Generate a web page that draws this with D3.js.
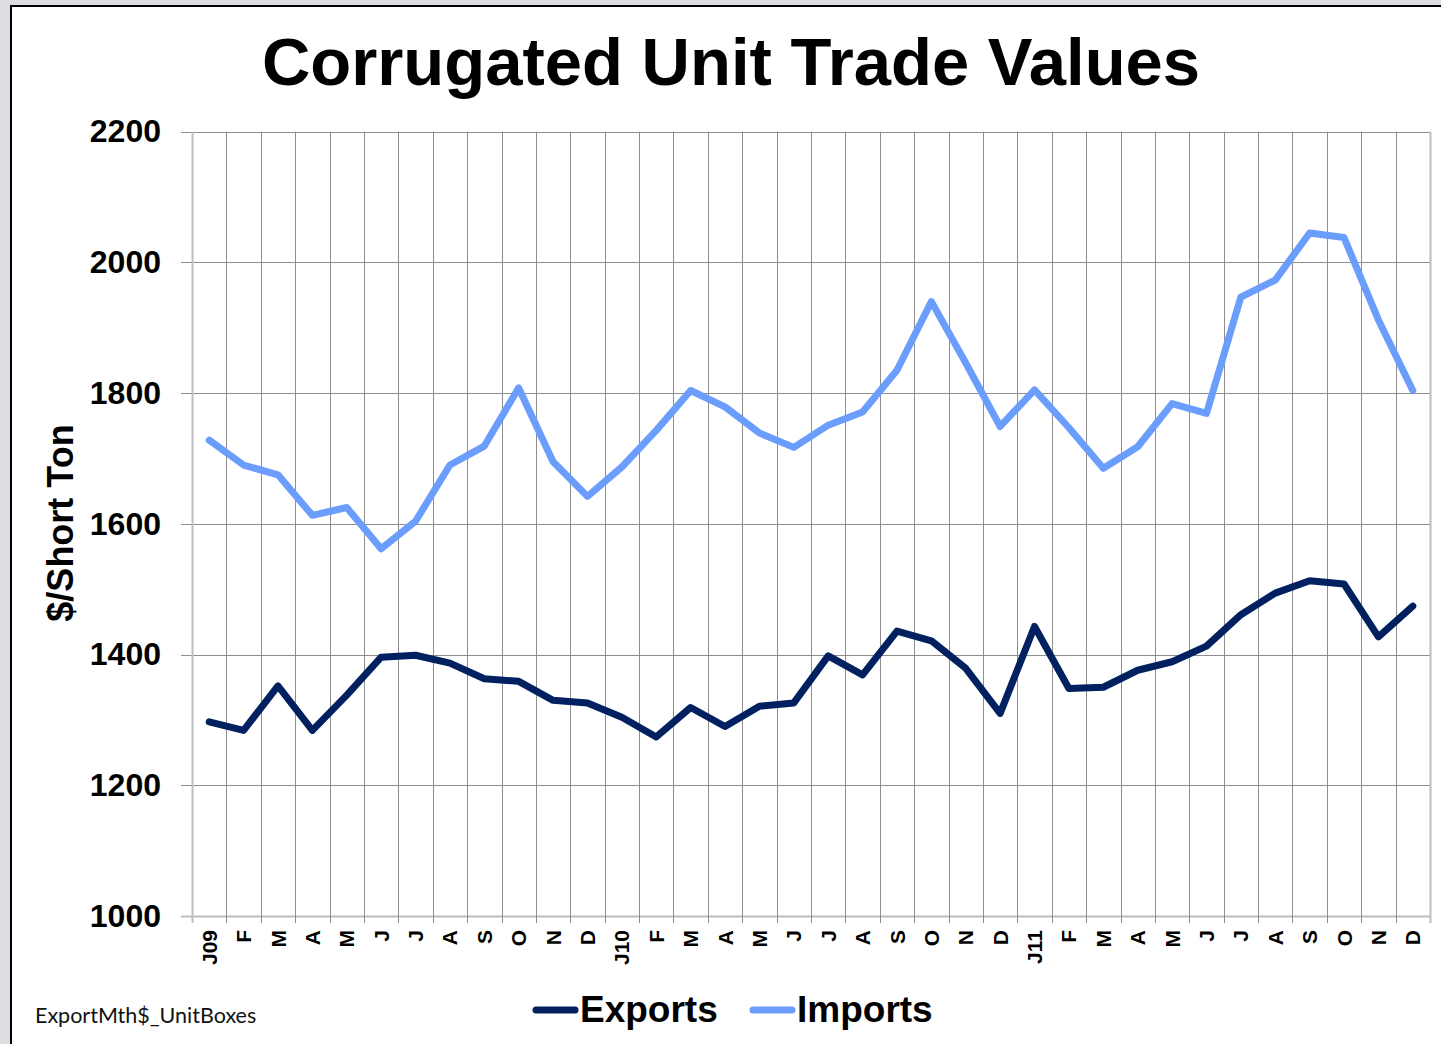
<!DOCTYPE html>
<html>
<head>
<meta charset="utf-8">
<script src="https://cdn.jsdelivr.net/npm/d3@7"></script>
<style>
  html, body { margin: 0; padding: 0; background: #dcdde0; }
  svg { display: block; }
</style>
</head>
<body>
<svg id="chart" width="1441" height="1044"></svg>
<script>
// month labels, J09 .. D11
var months = ["J09", "F", "M", "A", "M", "J", "J", "A", "S", "O", "N", "D",
              "J10", "F", "M", "A", "M", "J", "J", "A", "S", "O", "N", "D",
              "J11", "F", "M", "A", "M", "J", "J", "A", "S", "O", "N", "D"];

// $/short ton
var exportsValues = [1297, 1284, 1352, 1284, 1338, 1396, 1399, 1387, 1363, 1359, 1330, 1326,
                     1304, 1274, 1319, 1290, 1321, 1326, 1398, 1369, 1436, 1421, 1379, 1310,
                     1443, 1348, 1350, 1376, 1389, 1413, 1461, 1494, 1513, 1508, 1427, 1474];
var importsValues = [1728, 1690, 1675, 1613, 1625, 1562, 1604, 1690, 1719, 1808, 1695, 1642,
                     1687, 1743, 1804, 1779, 1739, 1717, 1751, 1771, 1835, 1940, 1846, 1749,
                     1805, 1747, 1685, 1718, 1784, 1769, 1947, 1973, 2045, 2038, 1912, 1804];

var yTicks = [1000, 1200, 1400, 1600, 1800, 2000, 2200];

var series = [
    { name: "Exports", values: exportsValues, color: "#002060" },
    { name: "Imports", values: importsValues, color: "#6b9dfd" }
];

var svg = d3.select("#chart");

// page frame
svg.append("rect")
    .attr("x", 11).attr("y", 6)
    .attr("width", 1450).attr("height", 1060)
    .attr("fill", "#ffffff")
    .attr("stroke", "#000000")
    .attr("stroke-width", 2);

// plot box (note: "top" is a reserved window global, so prefix these)
var plotLeft = 192, plotRight = 1430, plotTop = 131.7, plotBottom = 916;

var x = d3.scaleBand()
    .domain(d3.range(months.length))
    .range([plotLeft, plotRight]);
var y = d3.scaleLinear()
    .domain([1000, 2200])
    .range([plotBottom, plotTop]);

// horizontal gridlines
svg.append("g").attr("class", "ygrid")
    .selectAll("line")
    .data(yTicks)
    .enter().append("line")
    .attr("x1", plotLeft - 11).attr("x2", plotRight)
    .attr("y1", function (d) { return Math.round(y(d)) + 0.5; })
    .attr("y2", function (d) { return Math.round(y(d)) + 0.5; })
    .attr("stroke", function (d) { return d === 1000 ? "#bdbdbd" : "#8e8e8e"; })
    .attr("stroke-width", function (d) { return d === 1000 ? 2 : 1; });

// vertical gridlines on category boundaries
var bounds = d3.range(months.length + 1).map(function (i) { return plotLeft + i * x.step(); });
svg.append("g").attr("class", "xgrid")
    .selectAll("line")
    .data(bounds)
    .enter().append("line")
    .attr("x1", function (d) { return Math.round(d) + 0.5; })
    .attr("x2", function (d) { return Math.round(d) + 0.5; })
    .attr("y1", plotTop).attr("y2", plotBottom + 7)
    .attr("stroke", function (d, i) { return (i === 0 || i === months.length) ? "#bdbdbd" : "#8e8e8e"; })
    .attr("stroke-width", function (d, i) { return (i === 0 || i === months.length) ? 2 : 1; });

// y axis labels
var yAxis = d3.axisLeft(y)
    .tickValues(yTicks)
    .tickSize(0)
    .tickPadding(31)
    .tickFormat(d3.format("d"));
var gy = svg.append("g")
    .attr("transform", "translate(" + plotLeft + ",0)")
    .call(yAxis);
gy.select(".domain").remove();
gy.selectAll("text")
    .attr("font-family", "'Liberation Sans', Arial, sans-serif")
    .attr("font-weight", "bold")
    .attr("font-size", 32)
    .attr("fill", "#000");

// x axis labels (rotated)
var xAxis = d3.axisBottom(x)
    .tickSize(0)
    .tickFormat(function (i) { return months[i]; });
var gx = svg.append("g")
    .attr("transform", "translate(0," + plotBottom + ")")
    .call(xAxis);
gx.select(".domain").remove();
gx.selectAll("text")
    .attr("transform", "rotate(-90)")
    .attr("text-anchor", "end")
    .attr("x", -14)
    .attr("y", 0)
    .attr("dy", "0.36em")
    .attr("font-family", "'Liberation Sans', Arial, sans-serif")
    .attr("font-weight", "bold")
    .attr("font-size", 21)
    .attr("fill", "#000");

// lines
var line = d3.line()
    .x(function (d, i) { return x(i) + x.bandwidth() / 2; })
    .y(function (d) { return y(d); });

svg.append("g").attr("class", "series")
    .selectAll("path")
    .data(series)
    .enter().append("path")
    .attr("d", function (d) { return line(d.values); })
    .attr("fill", "none")
    .attr("stroke", function (d) { return d.color; })
    .attr("stroke-width", 7)
    .attr("stroke-linejoin", "round")
    .attr("stroke-linecap", "round");

// title
svg.append("text")
    .attr("x", 731).attr("y", 85)
    .attr("text-anchor", "middle")
    .attr("font-family", "'Liberation Sans', Arial, sans-serif")
    .attr("font-weight", "bold")
    .attr("font-size", 67)
    .text("Corrugated Unit Trade Values");

// y axis title
svg.append("text")
    .attr("transform", "translate(73,523) rotate(-90)")
    .attr("text-anchor", "middle")
    .attr("font-family", "'Liberation Sans', Arial, sans-serif")
    .attr("font-weight", "bold")
    .attr("font-size", 36)
    .text("$/Short Ton");

// legend
var legendPos = [533, 750];
var legend = svg.append("g").attr("class", "legend")
    .selectAll("g")
    .data(series)
    .enter().append("g")
    .attr("transform", function (d, i) { return "translate(" + legendPos[i] + ",1010)"; });
legend.append("line")
    .attr("x1", 3).attr("x2", 42)
    .attr("y1", 0).attr("y2", 0)
    .attr("stroke", function (d) { return d.color; })
    .attr("stroke-width", 7)
    .attr("stroke-linecap", "round");
legend.append("text")
    .attr("x", 47).attr("y", 12)
    .attr("font-family", "'Liberation Sans', Arial, sans-serif")
    .attr("font-weight", "bold")
    .attr("font-size", 37)
    .text(function (d) { return d.name; });

// source note
svg.append("text")
    .attr("x", 35).attr("y", 1023)
    .attr("font-family", "Lato, 'Open Sans', sans-serif")
    .attr("font-size", 21.5)
    .attr("fill", "#111")
    .text("ExportMth$_UnitBoxes");
</script>
</body>
</html>
